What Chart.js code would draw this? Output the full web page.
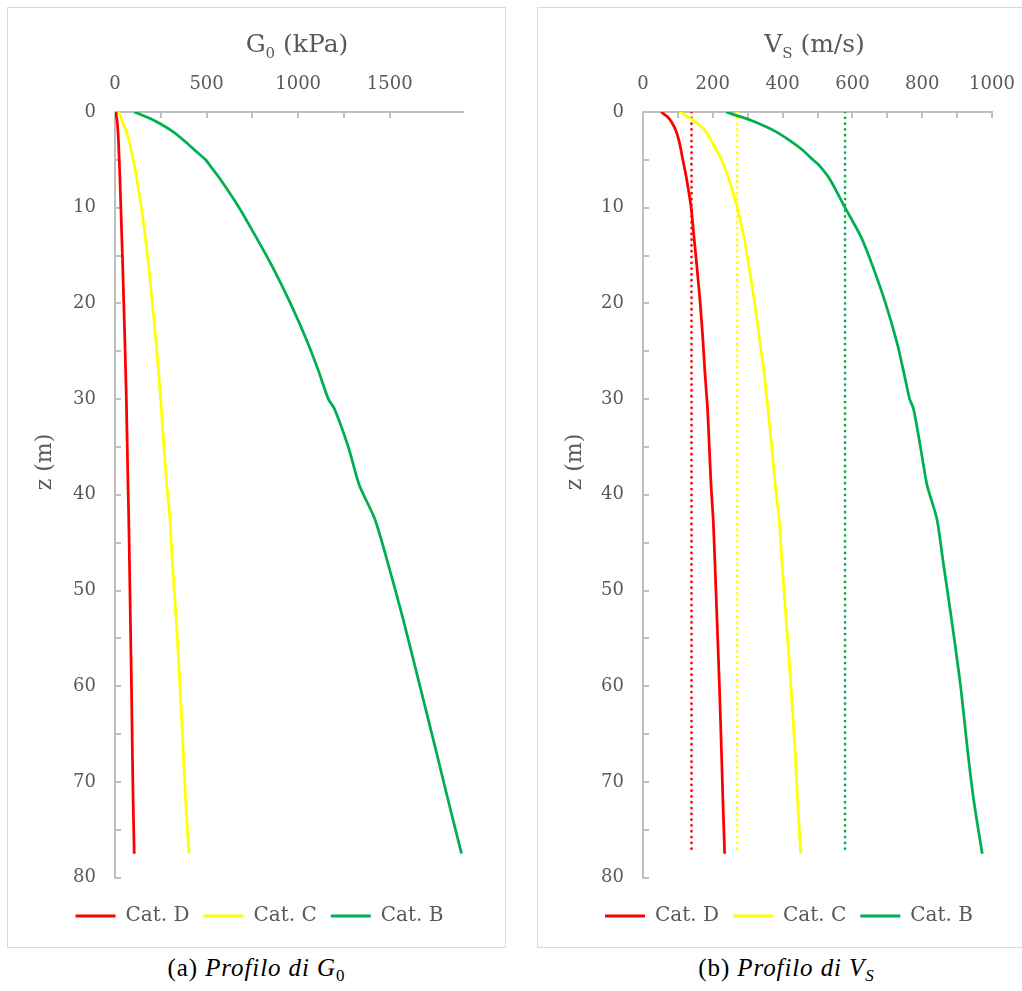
<!DOCTYPE html>
<html><head><meta charset="utf-8">
<script src="https://cdn.jsdelivr.net/npm/chart.js@4/dist/chart.umd.min.js"></script>
<style>
html,body{margin:0;padding:0;background:#fff;width:1022px;height:991px;overflow:hidden;}
.box{position:absolute;top:7px;width:499px;height:941px;box-sizing:border-box;border:1px solid #d9d9d9;background:#fff}
#boxA{left:7px} #boxB{left:537px}
.box canvas{display:block}
.cap{position:absolute;top:953px;width:500px;text-align:center;font-family:'Liberation Serif',serif;font-size:25px;letter-spacing:0.9px;line-height:30px;color:#000}
.cap sub{font-size:17px;vertical-align:-5px;line-height:0;letter-spacing:0}
#capA{left:6px} #capB{left:536px}
</style></head><body>
<div class="box" id="boxA"><canvas id="cA" width="497" height="939"></canvas></div>
<div class="box" id="boxB"><canvas id="cB" width="497" height="939"></canvas></div>
<div class="cap" id="capA">(a) <i>Profilo di G</i><sub>0</sub></div>
<div class="cap" id="capB">(b) <i>Profilo di V<sub>S</sub></i></div>
<script>
// ---- data ----
const depth   = [0, 0.5, 1, 2, 3, 4, 5, 5.5, 7, 10, 13, 16, 20, 24, 27, 30, 31, 35, 39, 42.5, 47, 53, 60, 67, 72, 77.5];
const g0CatD  = [5, 8, 12, 16, 19, 21, 23, 24, 27, 32, 37, 42, 48, 54, 58, 62, 63, 67, 71, 75, 79, 84, 90, 95, 99, 105];
const g0CatC  = [20, 30, 40, 62, 76, 88, 100, 106, 119, 144, 165, 183, 204, 224, 237, 249, 253, 267, 283, 300, 313, 334, 355, 373, 386, 404];
const g0CatB  = [105, 170, 225, 312, 378, 436, 495, 515, 574, 678, 768, 855, 958, 1050, 1110, 1165, 1198, 1274, 1334, 1418, 1488, 1573, 1665, 1756, 1820, 1892];
const vsCatD  = [52, 70, 81, 95, 103, 109, 114, 117, 125, 138, 146, 154, 164, 172, 177, 183, 185, 190, 195, 201, 206, 212, 219, 225, 229, 234];
const vsCatC  = [105, 128, 150, 179, 196, 211, 225, 231, 246, 270, 289, 303, 320, 335, 346, 355, 358, 369, 379, 390, 398, 410, 424, 436, 443, 452];
const vsCatB  = [238, 280, 318, 378, 421, 458, 487, 503, 535, 579, 624, 657, 695, 727, 746, 764, 775, 795, 814, 842, 860, 884, 910, 931, 948, 972];
const refDepth = [0, 77.5];
const vsRef    = [139, 270, 579];           // dotted reference lines (Cat. D, C, B)
const seriesNames = ['Cat. D', 'Cat. C', 'Cat. B'];
const seriesColors = ['#ff0000', '#ffff00', '#00b050'];
const g0Ticks = [0, 500, 1000, 1500];
const vsTicks = [0, 200, 400, 600, 800, 1000];
const zTicks  = [0, 10, 20, 30, 40, 50, 60, 70, 80];

const FONT = '"DejaVu Serif", serif';
const GREY = '#595959';
Chart.defaults.font.family = FONT;
Chart.defaults.color = GREY;

function pts(xs, zs) { return xs.map((v, i) => ({x: v, y: zs[i]})); }
function solid(i, vals) {
  return { label: seriesNames[i], data: pts(vals, depth), borderColor: seriesColors[i], backgroundColor: seriesColors[i],
           borderWidth: 2.75, pointRadius: 0, showLine: true, tension: 0.25, borderJoinStyle: 'round', borderCapStyle: 'butt' };
}
function dotted(i) {
  return { label: seriesNames[i] + ' ref', data: pts([vsRef[i], vsRef[i]], refDepth), borderColor: seriesColors[i], backgroundColor: seriesColors[i],
           borderWidth: 2.7, pointRadius: 0, showLine: true, borderDash: [0.1, 5.7], borderCapStyle: 'round' };
}

const decor = {
  id: 'decor',
  beforeDatasetsDraw(chart, args, o) {
    const ctx = chart.ctx, xs = chart.scales.x, ys = chart.scales.y, ca = chart.chartArea;
    ctx.save();
    ctx.strokeStyle = '#bfbfbf'; ctx.lineWidth = 2;
    ctx.beginPath();
    xs.ticks.forEach(t => { if (t.value % o.xMinor === 0) { const p = Math.round(xs.getPixelForValue(t.value)); ctx.moveTo(p, ca.top); ctx.lineTo(p, ca.top + 6); } });
    ys.ticks.forEach(t => { if (t.value % o.yMinor === 0) { const p = Math.round(ys.getPixelForValue(t.value)); ctx.moveTo(ca.left, p); ctx.lineTo(ca.left + 6, p); } });
    ctx.stroke();
    ctx.restore();
  },
  afterDraw(chart, args, o) {
    const ctx = chart.ctx, ca = chart.chartArea;
    ctx.save();
    ctx.fillStyle = GREY;
    ctx.textBaseline = 'alphabetic';
    const big = '25px ' + FONT, small = '15px ' + FONT;
    ctx.font = big; const w1 = ctx.measureText(o.main).width, w3 = ctx.measureText(o.rest).width;
    ctx.font = small; const w2 = ctx.measureText(o.sub).width;
    let x = (ca.left + ca.right) / 2 + o.shift - (w1 + w2 + w3) / 2;
    const yb = 44;
    ctx.font = big; ctx.fillText(o.main, x, yb); x += w1;
    ctx.font = small; ctx.fillText(o.sub, x, yb + 5.5); x += w2;
    ctx.font = big; ctx.fillText(o.rest, x, yb);
    ctx.translate(37, 454);
    ctx.rotate(-Math.PI / 2);
    ctx.textAlign = 'center'; ctx.textBaseline = 'middle';
    ctx.font = '22px ' + FONT;
    ctx.fillText('z (m)', 0, 0);
    ctx.restore();
  }
};

function makeChart(id, c) {
  return new Chart(document.getElementById(id), {
    type: 'scatter',
    data: { datasets: c.datasets },
    options: {
      responsive: false, animation: false, devicePixelRatio: 1,
      layout: { padding: { left: c.padLeft, right: 0, top: 0, bottom: 11 } },
      plugins: {
        legend: {
          position: 'bottom',
          title: { display: true, text: '', font: { size: 12 }, padding: 0 },
          labels: {
            boxWidth: 40, boxHeight: 3, padding: 14, color: GREY, font: { size: 20 },
            generateLabels: ch => Chart.defaults.plugins.legend.labels.generateLabels(ch)
              .map(l => Object.assign(l, { fillStyle: l.strokeStyle, lineWidth: 0, lineDash: [] })),
            filter: it => it.datasetIndex < 3
          }
        },
        tooltip: { enabled: false },
        decor: c.decor
      },
      scales: {
        x: {
          type: 'linear', position: 'top', min: 0, max: c.xMax,
          afterFit: s => { s.height = 104; },
          border: { color: '#bfbfbf', width: 2 },
          grid: { display: false, drawTicks: false },
          ticks: { stepSize: c.xStep, autoSkip: false, maxRotation: 0, padding: 17, color: GREY, font: { size: 18 },
                   callback: v => c.xLabels.includes(v) ? String(v) : '' }
        },
        y: {
          type: 'linear', reverse: true, min: 0, max: 80,
          afterFit: s => { s.width = c.yWidth; },
          border: { color: '#bfbfbf', width: 2 },
          grid: { display: false, drawTicks: false },
          ticks: { stepSize: 5, autoSkip: false, padding: 19, color: GREY, font: { size: 18 },
                   callback: v => zTicks.includes(v) ? String(v) : '' }
        },
        yRightSpace: {
          type: 'linear', position: 'right', display: true,
          afterFit: s => { s.width = c.rightSpace; },
          border: { display: false },
          grid: { display: false, drawTicks: false },
          ticks: { display: false }
        }
      }
    },
    plugins: [decor]
  });
}

makeChart('cA', {
  datasets: [solid(0, g0CatD), solid(1, g0CatC), solid(2, g0CatB)],
  xMax: 1900, xStep: 250, xLabels: g0Ticks, padLeft: 6, yWidth: 101, rightSpace: 42,
  decor: { xMinor: 250, yMinor: 5, main: 'G', sub: '0', rest: ' (kPa)', shift: 8 }
});
makeChart('cB', {
  datasets: [solid(0, vsCatD), solid(1, vsCatC), solid(2, vsCatB), dotted(0), dotted(1), dotted(2)],
  xMax: 1000, xStep: 100, xLabels: vsTicks, padLeft: 5, yWidth: 100, rightSpace: 43,
  decor: { xMinor: 100, yMinor: 5, main: 'V', sub: 'S', rest: ' (m/s)', shift: -3 }
});
</script>
</body></html>
